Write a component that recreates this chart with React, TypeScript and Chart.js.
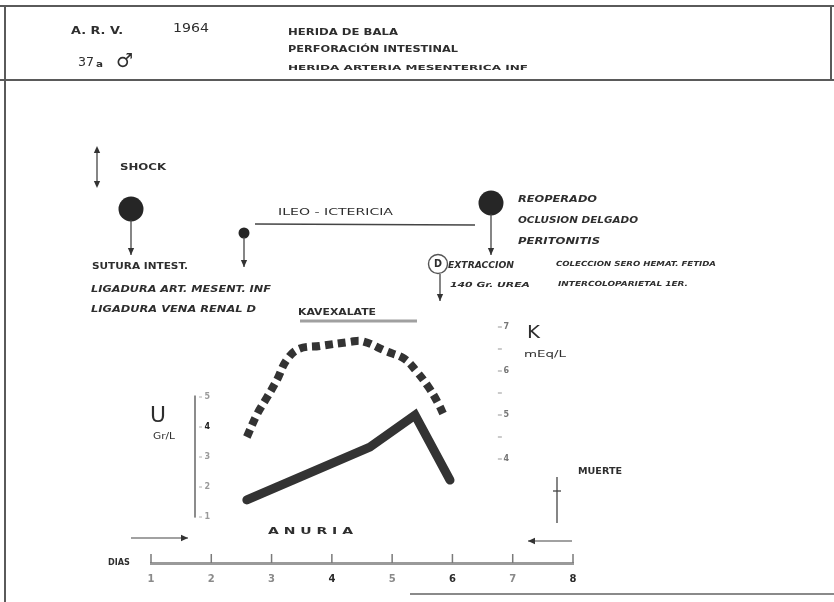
import React, { useEffect, useRef } from "react";
import { Chart, registerables } from "chart.js";

Chart.register(...registerables);

// ---- data ----
const dayTicks = [1, 2, 3, 4, 5, 6, 7, 8];
const ureaTicks = [1, 2, 3, 4, 5];
const potassiumTicks = [4, 5, 6, 7];
const potassiumMinorTicks = [4, 4.5, 5, 5.5, 6, 6.5, 7];

const ureaDays = [2.59, 4.63, 5.38, 5.96];
const ureaValues = [1.57, 3.33, 4.4, 2.23];

const potassiumDays = [2.59, 2.76, 2.92, 3.09, 3.25, 3.45, 3.8, 4.3, 4.5, 4.9, 5.2, 5.4, 5.6, 5.75, 5.88];
const potassiumValues = [4.5, 5.02, 5.39, 5.8, 6.25, 6.5, 6.57, 6.66, 6.68, 6.45, 6.28, 6.0, 5.64, 5.3, 4.93];

// axis placement (in day units on the x scale)
const U_AXIS_DAY = 1.73;
const U_LABEL_DAY = 1.98;
const K_AXIS_DAY = 6.82;
const K_LABEL_DAY = 6.94;

const FONT = '"DejaVu Sans", "Liberation Sans", sans-serif';
const INK = "#2e2e2e";

type Ctx = CanvasRenderingContext2D;

function txt(ctx: Ctx, s: string, x: number, y: number, w: number, size: number, opt: { weight?: string; italic?: boolean; color?: string } = {}) {
  ctx.save();
  ctx.font = `${opt.italic ? "italic " : ""}${opt.weight || "bold"} ${size}px ${FONT}`;
  ctx.textBaseline = "middle";
  ctx.textAlign = "left";
  const m = ctx.measureText(s).width;
  ctx.translate(x, y);
  if (w > 0) ctx.scale(w / m, 1);
  ctx.fillStyle = opt.color || INK;
  ctx.fillText(s, 0, 0);
  ctx.restore();
}

function line(ctx: Ctx, x1: number, y1: number, x2: number, y2: number, w = 1.5, color = "#444") {
  ctx.save();
  ctx.strokeStyle = color;
  ctx.lineWidth = w;
  ctx.beginPath();
  ctx.moveTo(x1, y1);
  ctx.lineTo(x2, y2);
  ctx.stroke();
  ctx.restore();
}

function head(ctx: Ctx, x: number, y: number, dx: number, dy: number, size = 7, color = "#333") {
  const len = Math.hypot(dx, dy);
  const ux = dx / len, uy = dy / len;
  const px = -uy, py = ux;
  ctx.save();
  ctx.fillStyle = color;
  ctx.beginPath();
  ctx.moveTo(x, y);
  ctx.lineTo(x - ux * size + px * size * 0.45, y - uy * size + py * size * 0.45);
  ctx.lineTo(x - ux * size - px * size * 0.45, y - uy * size - py * size * 0.45);
  ctx.closePath();
  ctx.fill();
  ctx.restore();
}

function arrow(ctx: Ctx, x1: number, y1: number, x2: number, y2: number, w = 1.3) {
  line(ctx, x1, y1, x2, y2, w);
  head(ctx, x2, y2, x2 - x1, y2 - y1);
}

function dot(ctx: Ctx, x: number, y: number, r: number) {
  ctx.save();
  ctx.fillStyle = "#262626";
  ctx.beginPath();
  ctx.arc(x, y, r, 0, Math.PI * 2);
  ctx.fill();
  ctx.restore();
}

const sketchPlugin = {
  id: "sketch",
  beforeDraw(chart: any) {
    const ctx: Ctx = chart.ctx;
    ctx.save();
    ctx.fillStyle = "#ffffff";
    ctx.fillRect(0, 0, chart.width, chart.height);
    ctx.strokeStyle = "#5a5a5a";
    ctx.lineWidth = 2;
    ctx.beginPath();
    ctx.moveTo(0, 6); ctx.lineTo(834, 6);
    ctx.moveTo(5, 6); ctx.lineTo(5, 602);
    ctx.moveTo(831, 6); ctx.lineTo(831, 80);
    ctx.moveTo(0, 80); ctx.lineTo(834, 80);
    ctx.stroke();
    ctx.strokeStyle = "#8a8a8a";
    ctx.beginPath();
    ctx.moveTo(410, 594); ctx.lineTo(834, 594);
    ctx.stroke();
    ctx.restore();
  },
  afterDraw(chart: any) {
    const ctx: Ctx = chart.ctx;
    const xs = chart.scales.x;
    const us = chart.scales.u;
    const ks = chart.scales.k;

    // U axis line
    const ux = xs.getPixelForValue(U_AXIS_DAY);
    line(ctx, ux, us.getPixelForValue(5.05), ux, us.getPixelForValue(0.98), 2, "#8c8c8c");
    ureaTicks.forEach((v) => {
      const py = us.getPixelForValue(v);
      line(ctx, ux + 4, py, ux + 7, py, 1, "#b0b0b0");
    });

    // K axis dashes
    const kx = xs.getPixelForValue(K_AXIS_DAY);
    potassiumMinorTicks.forEach((v) => {
      const py = ks.getPixelForValue(v);
      line(ctx, kx - 4, py, kx, py, 1.2, "#a8a8a8");
    });

    // x-axis day tick marks (drawn upward, as on the sheet)
    const axisY = xs.top;
    dayTicks.forEach((d) => {
      const px = xs.getPixelForValue(d);
      line(ctx, px, axisY, px, axisY - 9, 1.5, "#7a7a7a");
    });

    // header
    txt(ctx, "A. R. V.", 71, 31, 52, 11);
    txt(ctx, "1964", 173, 29, 36, 13, { weight: "normal" });
    txt(ctx, "37", 78, 63, 16, 13, { weight: "normal" });
    txt(ctx, "a", 96, 65, 7, 9);
    txt(ctx, "\u2642", 116, 62, 17, 19, { weight: "normal" });
    txt(ctx, "HERIDA DE BALA", 288, 33, 110, 8);
    txt(ctx, "PERFORACIÓN INTESTINAL", 288, 50, 170, 8);
    txt(ctx, "HERIDA ARTERIA MESENTERICA INF", 288, 68, 240, 7);

    // shock
    line(ctx, 97, 149, 97, 185, 1.3);
    head(ctx, 97, 146, 0, -1, 7);
    head(ctx, 97, 188, 0, 1, 7);
    txt(ctx, "SHOCK", 120, 168, 46, 8);

    // first operation
    dot(ctx, 131, 209, 12.5);
    arrow(ctx, 131, 220, 131, 255);
    txt(ctx, "SUTURA INTEST.", 92, 267, 96, 8);
    txt(ctx, "LIGADURA ART. MESENT. INF", 91, 290, 180, 8, { italic: true });
    txt(ctx, "LIGADURA VENA RENAL D", 91, 310, 165, 8, { italic: true });

    // ileo - ictericia
    dot(ctx, 244, 233, 5.5);
    arrow(ctx, 244, 237, 244, 267);
    line(ctx, 255, 224, 475, 225, 1.5);
    txt(ctx, "ILEO - ICTERICIA", 278, 213, 115, 8, { weight: "normal" });

    // reoperation
    dot(ctx, 491, 203, 12.5);
    arrow(ctx, 491, 214, 491, 255);
    txt(ctx, "REOPERADO", 518, 200, 79, 8, { italic: true });
    txt(ctx, "OCLUSION DELGADO", 518, 221, 120, 8, { italic: true });
    txt(ctx, "PERITONITIS", 518, 242, 82, 8, { italic: true });

    // extraction
    ctx.save();
    ctx.strokeStyle = "#555";
    ctx.lineWidth = 1.4;
    ctx.beginPath();
    ctx.arc(438, 264, 9.5, 0, Math.PI * 2);
    ctx.stroke();
    ctx.restore();
    txt(ctx, "D", 434, 264, 8, 10);
    arrow(ctx, 440, 274, 440, 301);
    txt(ctx, "EXTRACCION", 448, 266, 66, 8, { italic: true });
    txt(ctx, "140 Gr. UREA", 450, 285, 80, 7, { italic: true });
    txt(ctx, "COLECCION SERO HEMAT. FETIDA", 556, 264, 160, 7, { italic: true });
    txt(ctx, "INTERCOLOPARIETAL 1ER.", 558, 284, 130, 7, { italic: true });

    // kayexalate
    txt(ctx, "KAVEXALATE", 298, 313, 78, 8);
    line(ctx, 300, 321, 417, 321, 3, "#a0a0a0");

    // axis titles
    txt(ctx, "U", 150, 416, 16, 22, { weight: "normal" });
    txt(ctx, "Gr/L", 153, 437, 22, 8, { weight: "normal" });
    txt(ctx, "K", 527, 334, 13, 17, { weight: "normal" });
    txt(ctx, "mEq/L", 524, 355, 42, 9, { weight: "normal" });

    // death
    txt(ctx, "MUERTE", 578, 472, 44, 8, { weight: "bold" });
    line(ctx, 557, 477, 557, 523, 1.3);
    line(ctx, 553, 491, 561, 491, 1.3);

    // anuria
    arrow(ctx, 131, 538, 188, 538, 1.2);
    txt(ctx, "A N U R I A", 268, 532, 85, 9);
    arrow(ctx, 572, 541, 528, 541, 1.2);

    txt(ctx, "DIAS", 108, 563, 22, 8);
  },
};

export default function App() {
  const ref = useRef<HTMLCanvasElement | null>(null);

  useEffect(() => {
    document.body.style.margin = "0";
    document.body.style.background = "#ffffff";
    const canvas = ref.current;
    if (!canvas) return;

    const chart = new Chart(canvas, {
      type: "line",
      data: {
        datasets: [
          {
            label: "U (Gr/L)",
            data: ureaDays.map((d, i) => ({ x: d, y: ureaValues[i] })),
            yAxisID: "u",
            borderColor: "#333333",
            borderWidth: 9,
            borderCapStyle: "round",
            borderJoinStyle: "miter",
            pointRadius: 0,
            tension: 0,
            fill: false,
          },
          {
            label: "K (mEq/L)",
            data: potassiumDays.map((d, i) => ({ x: d, y: potassiumValues[i] })),
            yAxisID: "k",
            borderColor: "#333333",
            borderWidth: 8,
            borderDash: [8, 5],
            borderCapStyle: "butt",
            pointRadius: 0,
            tension: 0.4,
            fill: false,
          },
        ],
      },
      options: {
        responsive: false,
        animation: false,
        devicePixelRatio: 1,
        layout: { padding: { left: 151, right: 261, top: 100, bottom: 7 } },
        plugins: {
          legend: { display: false },
          tooltip: { enabled: false },
          title: { display: false },
        },
        scales: {
          x: {
            type: "linear",
            position: "bottom",
            min: 1,
            max: 8,
            afterBuildTicks: (s: any) => {
              s.ticks = dayTicks.map((v) => ({ value: v }));
            },
            ticks: {
              autoSkip: false,
              maxRotation: 0,
              padding: 10,
              font: { family: FONT, size: 10, weight: "bold" },
              color: (c: any) => ([4, 6, 8].includes(c.tick && c.tick.value) ? "#2a2a2a" : "#8a8a8a"),
            },
            grid: { display: false, drawTicks: false, drawOnChartArea: false },
            border: { display: true, color: "#9a9a9a", width: 3 },
          },
          u: {
            type: "linear",
            position: { x: U_LABEL_DAY } as any,
            min: -0.5333,
            max: 14.9,
            afterBuildTicks: (s: any) => {
              s.ticks = ureaTicks.map((v) => ({ value: v }));
            },
            ticks: {
              padding: 0,
              font: { family: FONT, size: 8, weight: "bold" },
              color: (c: any) => (c.tick && c.tick.value === 4 ? "#222" : "#9a9a9a"),
            },
            grid: { display: false, drawTicks: false, drawOnChartArea: false },
            border: { display: false },
          },
          k: {
            type: "linear",
            position: { x: K_LABEL_DAY } as any,
            min: 1.6364,
            max: 12.159,
            afterBuildTicks: (s: any) => {
              s.ticks = potassiumTicks.map((v) => ({ value: v }));
            },
            ticks: {
              padding: 0,
              font: { family: FONT, size: 8, weight: "bold" },
              color: "#777",
            },
            grid: { display: false, drawTicks: false, drawOnChartArea: false },
            border: { display: false },
          },
        },
      },
      plugins: [sketchPlugin],
    } as any);

    return () => chart.destroy();
  }, []);

  return (
    <div style={{ width: 834, height: 602, position: "relative" }}>
      <canvas ref={ref} width={834} height={602} style={{ display: "block", width: 834, height: 602 }} />
    </div>
  );
}
